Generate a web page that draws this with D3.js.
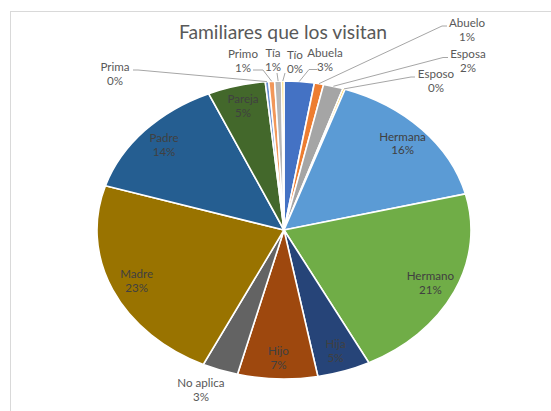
<!DOCTYPE html>
<html><head><meta charset="utf-8">
<script src="https://cdn.jsdelivr.net/npm/d3@7"></script>
<style>body{margin:0;background:#fff}svg{display:block}</style>
</head><body>
<svg id="c" width="551" height="411"></svg>
<script>
// ---- data ----
const categories = ["Abuela","Abuelo","Esposa","Esposo","Hermana","Hermano","Hija","Hijo","No aplica","Madre","Padre","Pareja","Prima","Primo","Tía","Tío"];
const values = [2.6,0.8,1.7,0.2,15.8,21.4,4.6,6.9,3.1,22.7,13.6,5.0,0.3,0.5,0.6,0.2];
const colors = ["#4472C4","#ED7D31","#A5A5A5","#FFC000","#5B9BD5","#70AD47","#264478","#9E480E","#636363","#997300","#255E91","#43682B","#698ED0","#F1975A","#B7B7B7","#FFCD33"];
const chartTitle = "Familiares que los visitan";

// ---- layout ----
const cx = 284, cy = 230, rx = 187, ry = 149;
const lineGap = 13.8;
const fontSize = 11.6;
const outside = {
  "Prima":     {x:115, y:67,  lead:[[133,70],[138,70]]},
  "Primo":     {x:243, y:54,  lead:[[253,70],[263,70]]},
  "Tía":       {x:273, y:53,  lead:[[277,73]]},
  "Tío":       {x:295, y:55,  lead:[[285,73]]},
  "Abuela":    {x:325, y:53,  lead:[[317,69.5],[309,69.5]]},
  "Abuelo":    {x:467, y:23,  lead:[[447,26],[442,26]]},
  "Esposa":    {x:468, y:54,  lead:[[448,57.5],[443,57.5]]},
  "Esposo":    {x:436, y:74,  lead:[[415,77],[411,77]]},
  "No aplica": {x:201, y:383, lead:null}
};

const svg = d3.select("#c");
const font = "Lato, 'Open Sans', sans-serif";

svg.append("rect").attr("x",10.5).attr("y",11.5).attr("width",600).attr("height",500)
  .attr("fill","#fff").attr("stroke","#D9D9D9").attr("stroke-width",1);

svg.append("text").attr("x",283).attr("y",38.5).attr("text-anchor","middle")
  .attr("font-family",font).attr("font-size",19.3).attr("fill","#595959").text(chartTitle);

const data = categories.map((c,i)=>({cat:c, value:values[i], color:colors[i]}));
const pie = d3.pie().sort(null).value(d=>d.value);
const arcs = pie(data);
const arc = d3.arc().innerRadius(0).outerRadius(ry);

const g = svg.append("g").attr("transform",`translate(${cx},${cy}) scale(${rx/ry},1)`);
g.selectAll("path").data(arcs).join("path")
  .attr("d",arc).attr("fill",d=>d.data.color)
  .attr("stroke","#fff").attr("stroke-width",1.6)
  .attr("vector-effect","non-scaling-stroke");

const pt = (a,k)=>[cx + k*rx*Math.sin(a), cy - k*ry*Math.cos(a)];

arcs.forEach(d=>{
  const mid = (d.startAngle + d.endAngle)/2;
  const pct = Math.round(d.data.value) + "%";
  const o = outside[d.data.cat];
  let x, y, fill;
  if (o) {
    x = o.x; y = o.y; fill = "#595959";
    if (o.lead) {
      const pts = o.lead.concat([pt(mid,1)]);
      svg.append("path").attr("d", d3.line()(pts))
        .attr("fill","none").attr("stroke","#A6A6A6").attr("stroke-width",1);
    }
  } else {
    [x, y] = pt(mid, 0.86);
    y -= lineGap/2;
    fill = "#404040";
  }
  const t = svg.append("text").attr("text-anchor","middle")
    .attr("font-family",font).attr("font-size",fontSize).attr("fill",fill);
  t.append("tspan").attr("x",x).attr("y",y+4).text(d.data.cat);
  t.append("tspan").attr("x",x).attr("y",y+4+lineGap).text(pct);
});
</script>
</body></html>
